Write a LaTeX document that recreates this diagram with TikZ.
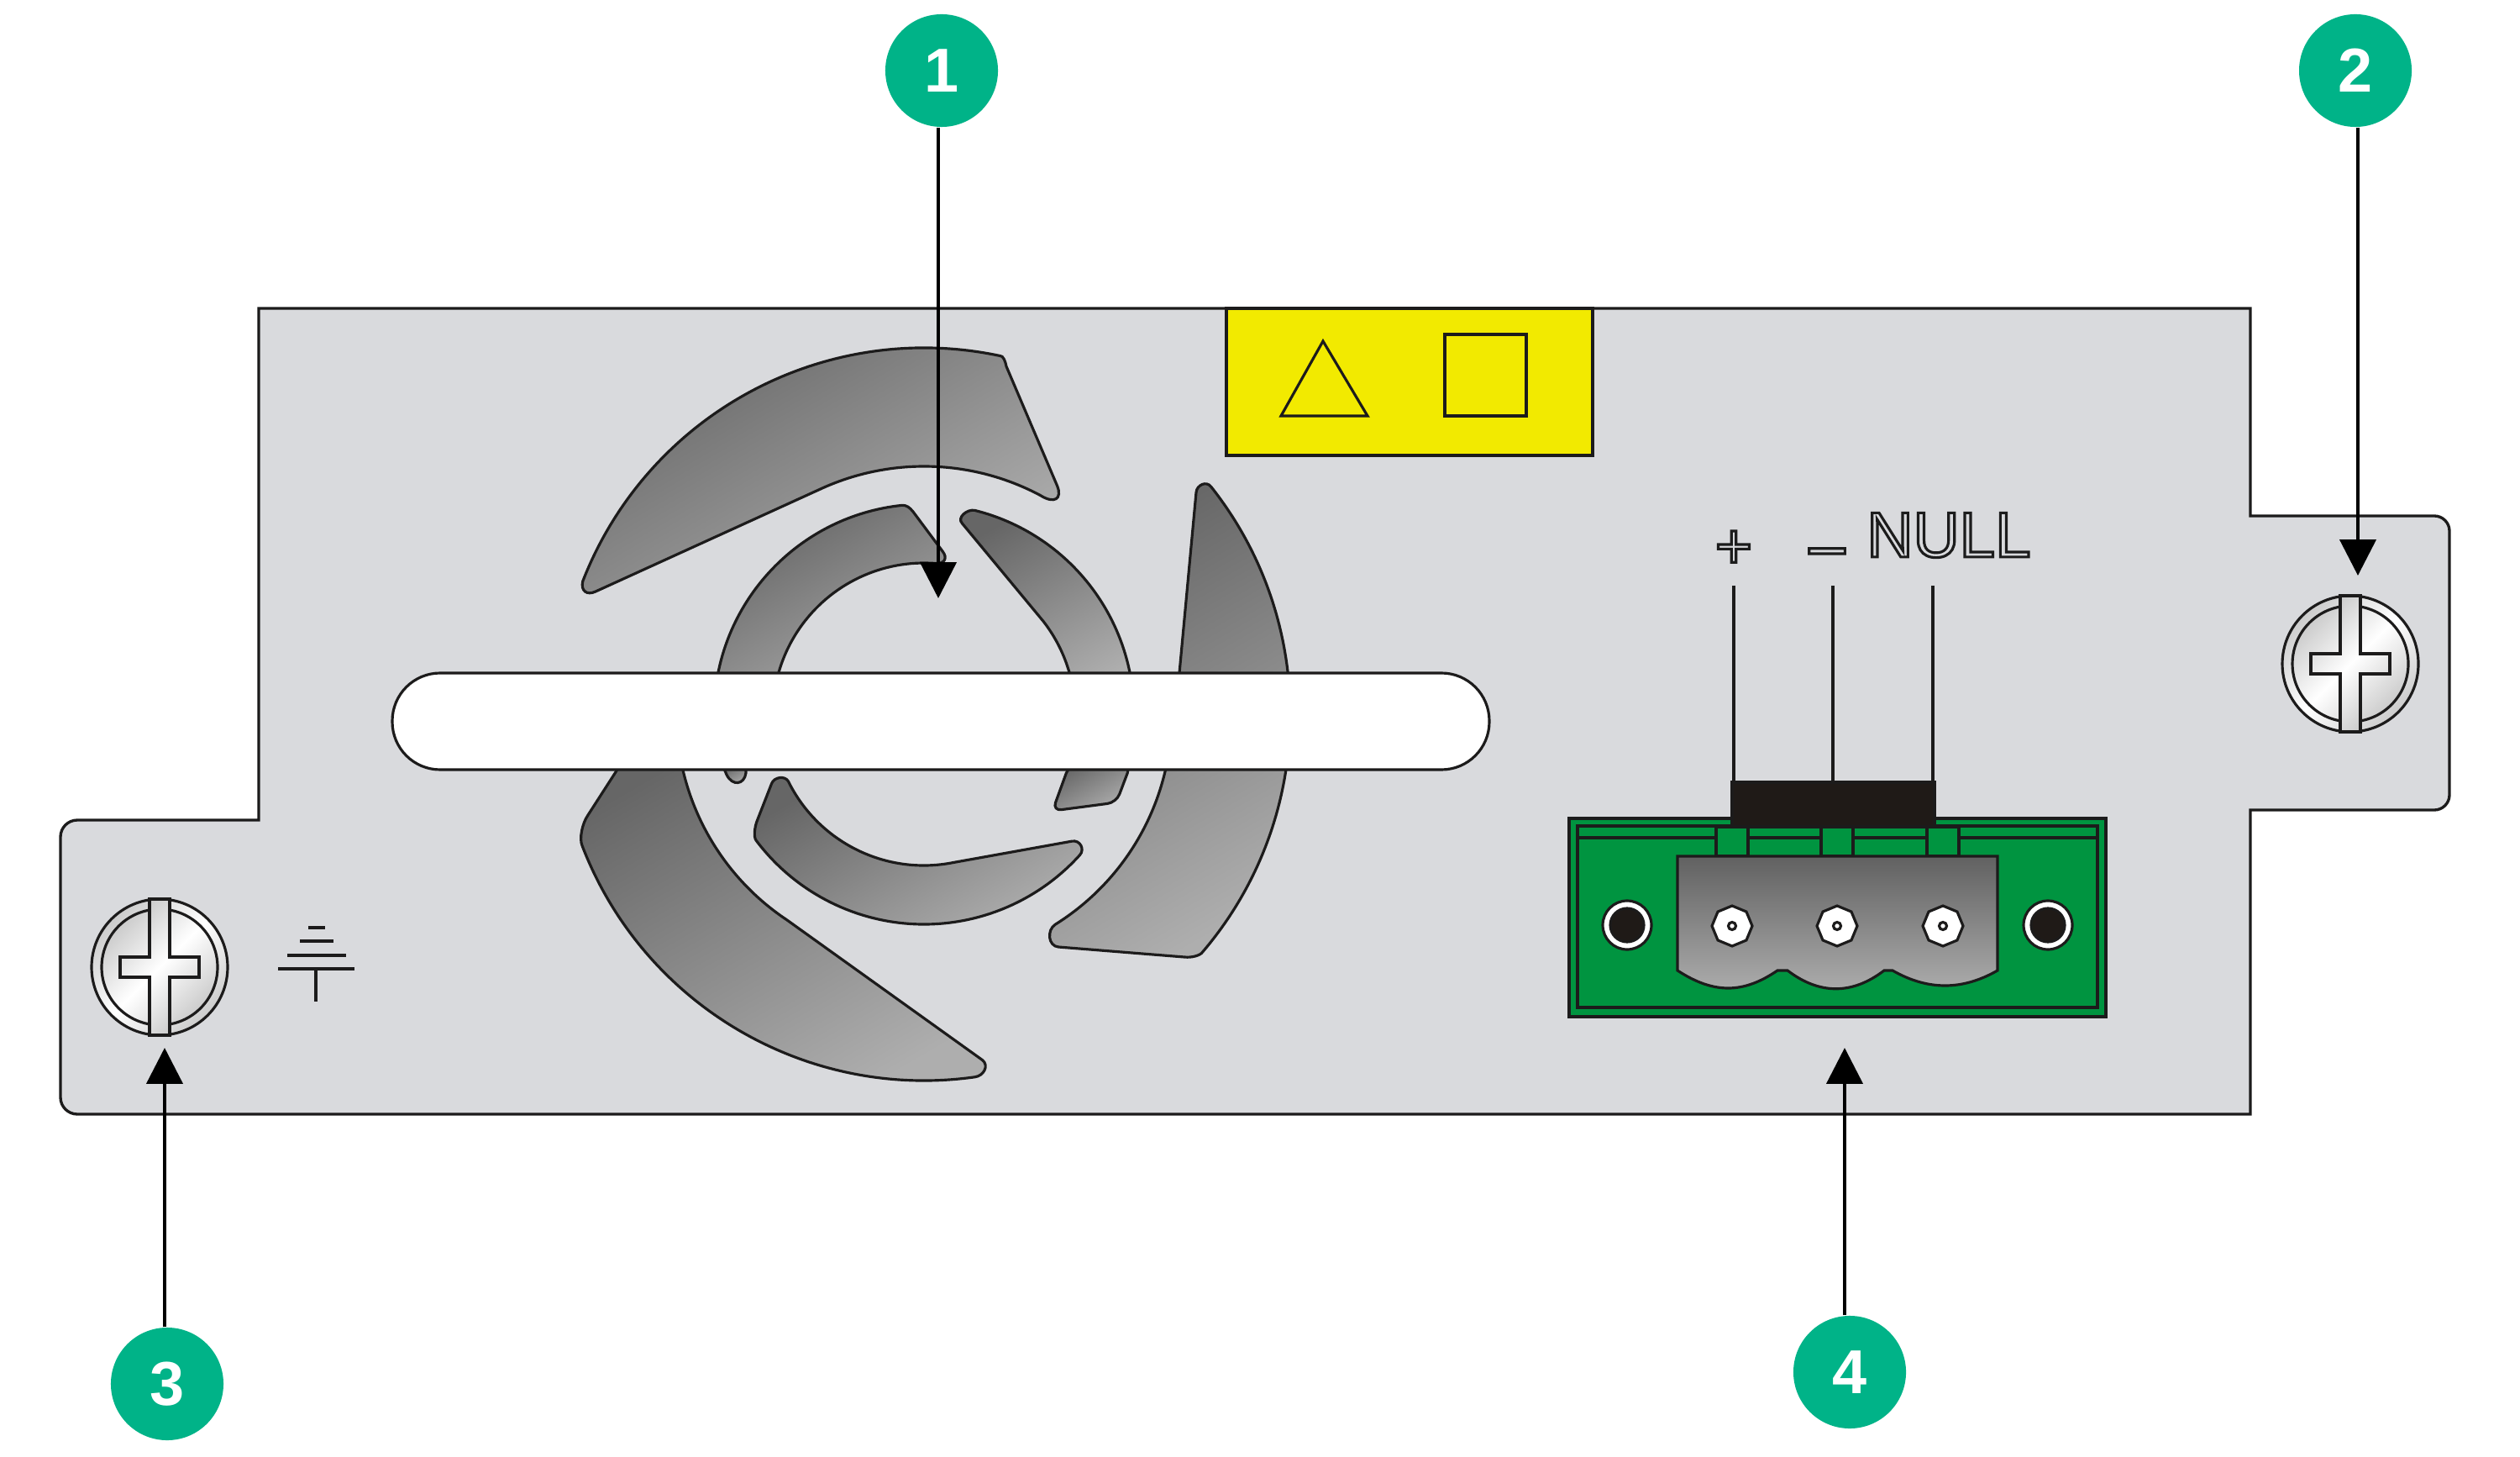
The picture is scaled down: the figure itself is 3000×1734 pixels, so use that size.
\documentclass[tikz,border=0pt]{standalone}
\usepackage{fontspec}
\setmainfont{Liberation Sans}
\usepackage{xcolor}
\usetikzlibrary{arrows.meta, positioning}
\definecolor{panelgray}{HTML}{D9DADD}
\definecolor{linedark}{HTML}{1C1B1B}
\definecolor{calloutgreen}{HTML}{00B388}
\definecolor{labelyellow}{HTML}{F2EA00}
\definecolor{boardgreen}{HTML}{009440}
\definecolor{blockblack}{HTML}{1F1A17}
\definecolor{bladedark}{HTML}{666666}
\definecolor{bladelight}{HTML}{AEAEAE}
\newcommand{\hollow}[1]{\special{pdf:code q 1 Tr 0.9 w 0.11 G}#1\special{pdf:code Q}}
\tikzset{
panel/.style={draw=linedark, line width=0.95pt, fill=panelgray},
blade/.style={draw=linedark, line width=0.9pt, top color=bladedark, bottom color=bladelight, shading angle=30},
thinline/.style={draw=linedark, line width=0.9pt},
callout/.style={circle, fill=calloutgreen, text=white, minimum size=1.34cm, inner sep=0pt, font=\fontsize{21}{21}\selectfont\bfseries},
callarrow/.style={draw=black, line width=1.25pt, -{Triangle[length=12.2pt,width=12.2pt]}},
outlined/.style={inner sep=0pt, font=\fontsize{21.7}{22}\selectfont},
metal/.style={left color=black!20, right color=black!20, middle color=white, shading angle=45},
screw/.pic={
\draw[thinline, metal] (0,0) circle[radius=81];
\draw[thinline, metal] (0,0) circle[radius=69];
\draw[thinline, metal]
(-12,-81) -- (12,-81) -- (12,-12) -- (47,-12) -- (47,12) -- (12,12) -- (12,81) -- (-12,81) -- (-12,12) -- (-47,12) -- (-47,-12) -- (-12,-12) -- cycle;
},
termscrew/.pic={
\draw[thinline, fill=white] plot[samples at={0,45,...,315}] (\x:24) -- cycle;
\draw[thinline, fill=white] (0,0) circle[radius=4.5];
},
boardhole/.pic={
\draw[thinline, fill=white] (0,0) circle[radius=29];
\draw[thinline, fill=blockblack] (0,0) circle[radius=20];
}
}
\begin{document}
\begin{tikzpicture}[x=0.01cm, y=-0.01cm]
\useasboundingbox (0,0) rectangle (3000,1734);

% panel
\draw[panel] (308,367) -- (2679,367) -- (2679,614) -- (2898,614) arc[start angle=270, end angle=360, radius=18] -- (2916,946) arc[start angle=0, end angle=90, radius=18] -- (2679,964) -- (2679,1326) -- (92,1326) arc[start angle=90, end angle=180, radius=20] -- (72,996) arc[start angle=180, end angle=270, radius=20] -- (308,976) -- cycle;

% fan
\begin{scope}[shift={(1100,850)}]
\path[blade] (201.3:436) arc[start angle=201.3, end angle=282, radius=436] .. controls (94,-427) and (97,-420) .. (98,-414) -- (158.5,-272) .. controls (165,-256) and (155,-250) .. (298:295) arc[start angle=298, end angle=245, radius=295] -- (-391,-146) .. controls (-401.5,-141) and (-409,-147) .. cycle;
\path[blade] (183:250) arc[start angle=183, end angle=264, radius=250] .. controls (-21,-249) and (-17,-246) .. (-13,-241) -- (22,-194) .. controls (28.5,-186) and (24.5,-179) .. (274.5:180) arc[start angle=274.5, end angle=183, radius=180] -- cycle;
\path[blade] (284:250) arc[start angle=284, end angle=355, radius=250] -- (355:180) arc[start angle=355, end angle=322, radius=180] -- (45.5,-227) .. controls (38.7,-234) and (51.3,-244.4) .. cycle;
\path[blade] (321.6:436) arc[start angle=321.6, end angle=400.5, radius=436] .. controls (329,287) and (319,290) .. (310,289) -- (160,277) .. controls (147.7,276) and (145.9,256.8) .. (58:295) arc[start angle=58, end angle=0, radius=295] -- (304,-49) -- (324,-264) .. controls (324.8,-273) and (336.2,-278) .. cycle;
\path[blade] (159:436) arc[start angle=159, end angle=82, radius=436] .. controls (71.2,430.3) and (77.8,418) .. (69.4,411.5) -- (-163,245) arc[start angle=123.6, end angle=175, radius=295] -- (-342,30) -- (-400,120) .. controls (-407,130) and (-410.5,148) .. cycle;
\path[blade] (-240,60) -- (-235,72) .. controls (-228,86) and (-214,84) .. (-212,70) -- (-212,60) -- cycle;
\path[blade] (143:250) arc[start angle=143, end angle=42.1, radius=250] .. controls (191.8,160.6) and (185.7,149.5) .. (176.3,151.1) -- (35,176.5) arc[start angle=78.7, end angle=153.7, radius=180] .. controls (-165.8,72.8) and (-178.5,74.7) .. (-181.4,82.5) -- (-198,125) .. controls (-202,134) and (-203,147) .. cycle;
\path[blade, rounded corners=3pt] (173,60) -- (153,115) -- (229,105) -- (246,60) -- cycle;
\end{scope}
\draw[thinline, fill=white, rounded corners=16.2pt] (467,801) rectangle (1773,916);

% label
\draw[thinline, fill=labelyellow] (1460,367) rectangle (1896,542);
\draw[thinline] (1525,495) -- (1575,406) -- (1628,495) -- cycle;
\draw[thinline] (1720,398) rectangle (1817,495);

% connector
\draw[panel, fill=boardgreen] (1868,974) rectangle (2507,1210);
\draw[panel, fill=boardgreen] (1878,983) rectangle (2497,1199);
\draw[thinline] (1878,997) -- (2497,997);
\foreach \tabx in {2043,2168,2294} {
\draw[thinline, fill=boardgreen] (\tabx,984) rectangle (\tabx+38,1019);
}
\draw[thinline, top color=bladedark!95!black, bottom color=bladelight] (1997,1019) -- (2378,1019) -- (2378,1155) .. controls (2336,1179) and (2295,1179) .. (2253,1155) -- (2243,1155) .. controls (2205,1184) and (2166,1184) .. (2128,1155) -- (2116,1155) .. controls (2075,1183) and (2040,1183) .. (1997,1155) -- cycle;
\foreach \wirex in {2064,2182,2301} {
\draw[thinline] (\wirex,697) -- (\wirex,931);
}
\draw[thinline, fill=blockblack] (2062,931) rectangle (2303,984);
\pic at (1937,1101) {boardhole};
\pic at (2438,1101) {boardhole};
\pic at (2062,1102) {termscrew};
\pic at (2187,1102) {termscrew};
\pic at (2313,1102) {termscrew};
\node[outlined] (plus) at (2064,654) {\hollow{+}};
\node[outlined] (minus) at (2175,669) {\fontsize{25}{25}\selectfont\hollow{−}};
\node[outlined] (nulltext) at (2320,637) {\hollow{NULL}};

% ground mark
\draw[thinline] (367,1104) -- (387,1104);
\draw[thinline] (357,1120) -- (397,1120);
\draw[thinline] (342,1137) -- (412,1137);
\draw[thinline] (331,1153) -- (422,1153);
\draw[thinline] (376,1153) -- (376,1192);

% screws
\pic at (190,1151) {screw};
\pic at (2798,790) {screw};

% callouts
\node[callout] (call1) at (1121,84) {1};
\node[callout] (call2) at (2804,84) {2};
\node[callout] (call3) at (199,1647) {3};
\node[callout] (call4) at (2202,1633) {4};
\coordinate (tip1) at (1117,712);
\coordinate (tip2) at (2807,685);
\coordinate (tip3) at (196,1247);
\coordinate (tip4) at (2196,1247);
\draw[callarrow] (call1.south -| tip1) -- (tip1);
\draw[callarrow] (call2.south -| tip2) -- (tip2);
\draw[callarrow] (call3.north -| tip3) -- (tip3);
\draw[callarrow] (call4.north -| tip4) -- (tip4);
\end{tikzpicture}
\end{document}
